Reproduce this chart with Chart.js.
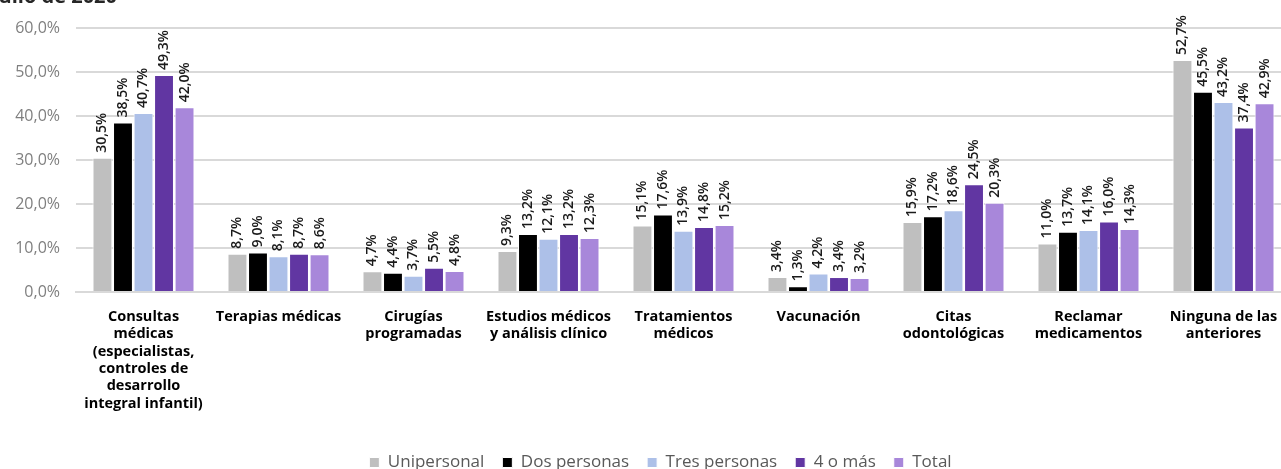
<!DOCTYPE html>
<html>
<head>
<meta charset="utf-8">
<script src="https://cdn.jsdelivr.net/npm/chart.js@4/dist/chart.umd.min.js"></script>
<style>
  html, body { margin: 0; padding: 0; background: #fff; overflow: hidden; }
  #wrap { width: 1320px; height: 469px; }
</style>
</head>
<body>
<div id="wrap"><canvas id="chart" width="1320" height="469"></canvas></div>
<script>
// Categories (x axis)
const categories = [
    ['Consultas', 'médicas', '(especialistas,', 'controles de', 'desarrollo', 'integral infantil)'],
    'Terapias médicas',
    ['Cirugías', 'programadas'],
    ['Estudios médicos', 'y análisis clínico'],
    ['Tratamientos', 'médicos'],
    'Vacunación',
    ['Citas', 'odontológicas'],
    ['Reclamar', 'medicamentos'],
    ['Ninguna de las', 'anteriores']
];

// Series values (%)
const unipersonal  = [30.5, 8.7, 4.7, 9.3, 15.1, 3.4, 15.9, 11.0, 52.7];
const dosPersonas  = [38.5, 9.0, 4.4, 13.2, 17.6, 1.3, 17.2, 13.7, 45.5];
const tresPersonas = [40.7, 8.1, 3.7, 12.1, 13.9, 4.2, 18.6, 14.1, 43.2];
const cuatroOMas   = [49.3, 8.7, 5.5, 13.2, 14.8, 3.4, 24.5, 16.0, 37.4];
const total        = [42.0, 8.6, 4.8, 12.3, 15.2, 3.2, 20.3, 14.3, 42.9];

const seriesNames = ['Unipersonal', 'Dos personas', 'Tres personas', '4 o más', 'Total'];
const seriesColors = ['#bfbfbf', '#000000', '#adc0e8', '#6136a2', '#a887da'];

// y ticks: 0..60 step 10
const yMax = 60;
const yStep = 10;

const fmt = v => v.toFixed(1).replace('.', ',') + '%';

// Rotated value labels above each bar
const valueLabels = {
    id: 'valueLabels',
    afterDatasetsDraw(chart) {
        const ctx = chart.ctx;
        ctx.save();
        ctx.font = '600 14px "Open Sans"';
        ctx.fillStyle = '#1a1a1a';
        ctx.textAlign = 'left';
        ctx.textBaseline = 'middle';
        chart.data.datasets.forEach((ds, i) => {
            chart.getDatasetMeta(i).data.forEach((bar, j) => {
                ctx.save();
                ctx.translate(bar.x, bar.y - 5);
                ctx.rotate(-Math.PI / 2);
                ctx.fillText(fmt(ds.data[j]), 0, 0);
                ctx.restore();
            });
        });
        ctx.restore();
    }
};

// Legend sits a bit right of the canvas centre in the original
const shiftLegend = {
    id: 'shiftLegend',
    afterLayout(chart) {
        if (chart.legend) {
            chart.legend.left += 15;
            chart.legend.right += 15;
        }
    }
};

// Title cut off at the top of the picture
const cutTitle = {
    id: 'cutTitle',
    afterDraw(chart) {
        const ctx = chart.ctx;
        ctx.save();
        ctx.font = 'bold 20px "Open Sans"';
        ctx.fillStyle = '#262626';
        ctx.textAlign = 'left';
        ctx.textBaseline = 'alphabetic';
        ctx.fillText('Julio de 2020', -8, 3);
        ctx.restore();
    }
};

new Chart(document.getElementById('chart'), {
    type: 'bar',
    data: {
        labels: categories,
        datasets: [unipersonal, dosPersonas, tresPersonas, cuatroOMas, total].map((d, i) => ({
            label: seriesNames[i],
            data: d,
            backgroundColor: seriesColors[i],
            borderColor: '#ffffff',
            borderWidth: 1,
            categoryPercentage: 0.76,
            barPercentage: 0.97
        }))
    },
    options: {
        responsive: false,
        animation: false,
        devicePixelRatio: 1,
        layout: { padding: { top: 28, left: 0, right: 29, bottom: -12 } },
        plugins: {
            tooltip: { enabled: false },
            title: { display: false },
            legend: {
                position: 'bottom',
                labels: {
                    font: { family: 'Open Sans', size: 17 },
                    color: '#595959',
                    boxWidth: 10,
                    boxHeight: 10,
                    padding: 18
                }
            }
        },
        scales: {
            y: {
                min: 0,
                max: yMax,
                ticks: {
                    stepSize: yStep,
                    callback: v => fmt(v),
                    font: { family: 'Open Sans', size: 16 },
                    color: '#7f7f7f',
                    padding: 16
                },
                grid: { color: '#d9d9d9', lineWidth: 2, drawTicks: false },
                border: { display: false },
                afterFit: s => { s.width = 76; }
            },
            x: {
                ticks: {
                    font: { family: 'Open Sans', size: 14.5, weight: 'bold' },
                    color: '#000000',
                    maxRotation: 0,
                    autoSkip: false,
                    padding: 16
                },
                grid: { display: false, drawTicks: false },
                border: { color: '#d9d9d9', width: 2 },
                afterFit: s => { s.height = 144; }
            }
        }
    },
    plugins: [valueLabels, shiftLegend, cutTitle]
});
</script>
</body>
</html>
